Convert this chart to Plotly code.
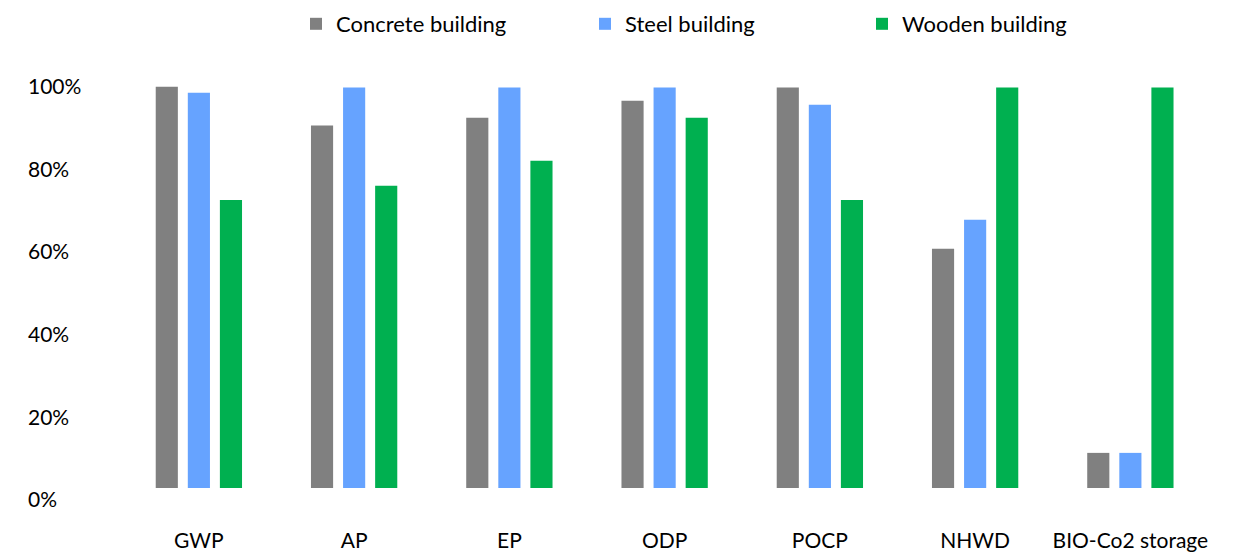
import plotly.graph_objects as go

categories = ["GWP", "AP", "EP", "ODP", "POCP", "NHWD", "BIO-Co2 storage"]
concrete = [1.00, 0.906, 0.925, 0.966, 0.998, 0.608, 0.114]
steel = [0.985, 0.998, 0.998, 0.998, 0.956, 0.678, 0.114]
wooden = [0.726, 0.760, 0.821, 0.925, 0.726, 0.998, 0.998]
series_names = ["Concrete building", "Steel building", "Wooden building"]
colors = ["#808080", "#66A3FF", "#00B050"]
y_ticks = [0, 0.2, 0.4, 0.6, 0.8, 1.0]
BASE = 0.029  # bars start slightly above the 0% label

FONT = "Lato, 'Noto Sans', sans-serif"
W, H = 1256, 554
L, R = 25, 48
legend_px = [296, 585, 862]
legend_keys = ["legend", "legend2", "legend3"]

fig = go.Figure()
for name, vals, col, lk in zip(series_names, [concrete, steel, wooden], colors, legend_keys):
    fig.add_trace(go.Bar(
        x=categories, y=[v - BASE for v in vals], base=BASE,
        name=name, marker=dict(color=col, line=dict(width=0)), legend=lk,
    ))

leg_common = dict(orientation="h", xanchor="left", yref="container", xref="container",
                  y=1 - 3 / H, yanchor="top",
                  font=dict(size=22, color="#000000"), bgcolor="rgba(0,0,0,0)")
fig.update_layout(
    width=W, height=H,
    margin=dict(l=L, r=R, t=66, b=54, autoexpand=False),
    paper_bgcolor="white", plot_bgcolor="white",
    barmode="group", bargap=0.38, bargroupgap=0.31,
    font=dict(family=FONT, size=21, color="#000000"),
    showlegend=True,
    legend=dict(x=legend_px[0] / W, **leg_common),
    legend2=dict(x=legend_px[1] / W, **leg_common),
    legend3=dict(x=legend_px[2] / W, **leg_common),
    xaxis=dict(range=[-1.12, 6.5], showgrid=False, showline=False, zeroline=False,
               ticks="", ticklabelstandoff=26, automargin=False,
               tickfont=dict(size=21, color="#000000")),
    yaxis=dict(range=[0, 1.05], tickvals=y_ticks, tickformat=".0%",
               showgrid=False, showline=False, zeroline=False, automargin=False,
               ticklabelposition="inside", ticklabeloverflow="allow",
               tickfont=dict(size=21, color="#000000")),
)

fig.write_html("out.html")
